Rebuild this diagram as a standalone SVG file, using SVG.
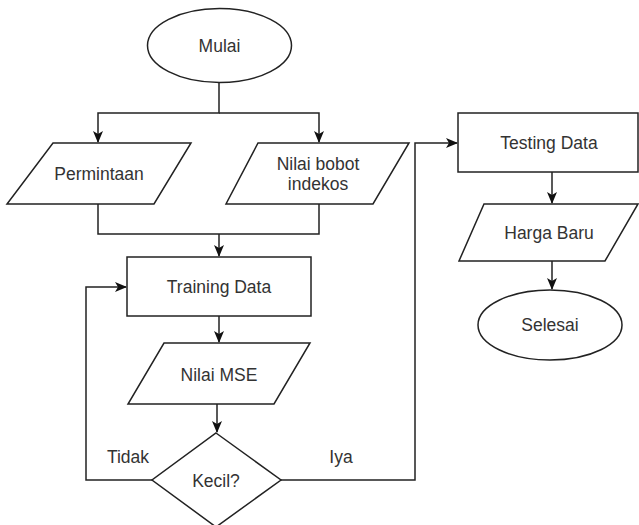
<svg xmlns="http://www.w3.org/2000/svg" width="639" height="525" viewBox="0 0 639 525">
<style>
.s{fill:#fff;stroke:#222;stroke-width:1.5}
.t{font-family:"Liberation Sans",Arial,sans-serif;font-size:17.5px;fill:#333;text-anchor:middle;dominant-baseline:central}
.c{fill:none;stroke:#222;stroke-width:1.5}
</style>
<defs>
<marker id="a" viewBox="0 0 12 10" refX="11" refY="5" markerWidth="12" markerHeight="10" markerUnits="userSpaceOnUse" orient="auto"><path d="M0,0 L12,5 L0,10 L3,5 Z" fill="#111"/></marker>
</defs>
<rect width="639" height="525" fill="#fff"/>
<g id="connectors">
<path class="c" d="M219,83 V113 H98 V142" marker-end="url(#a)"/>
<path class="c" d="M219,113 H319 V142" marker-end="url(#a)"/>
<path class="c" d="M98,204 V234 H319 V204"/>
<path class="c" d="M219,234 V256" marker-end="url(#a)"/>
<path class="c" d="M219,316 V342" marker-end="url(#a)"/>
<path class="c" d="M217,404 V432" marker-end="url(#a)"/>
<path class="c" d="M152,480 H86 V287 H126" marker-end="url(#a)"/>
<path class="c" d="M281,480 H415 V143 H457" marker-end="url(#a)"/>
<path class="c" d="M552,172 V203" marker-end="url(#a)"/>
<path class="c" d="M552,261 V289" marker-end="url(#a)"/>
<text class="t" x="128" y="457">Tidak</text>
<text class="t" x="341" y="457">Iya</text>
</g>
<g id="mulai"><ellipse class="s" cx="219.5" cy="45.5" rx="72" ry="37"/><text class="t" x="219.5" y="45.5">Mulai</text></g>
<g id="permintaan"><polygon class="s" points="53,143 191,143 154,204 7,204"/><text class="t" x="99" y="174">Permintaan</text></g>
<g id="nilai-bobot"><polygon class="s" points="258,143 409,143 373,204 226,204"/><text class="t" x="318" y="164">Nilai bobot</text><text class="t" x="318" y="184">indekos</text></g>
<g id="training"><rect class="s" x="127" y="257" width="184" height="59"/><text class="t" x="219" y="287">Training Data</text></g>
<g id="mse"><polygon class="s" points="164,343 310,343 274,404 128,404"/><text class="t" x="219" y="375">Nilai MSE</text></g>
<g id="kecil"><polygon class="s" points="216,433 281,480 216,527 152,480"/><text class="t" x="216" y="481">Kecil?</text></g>
<g id="testing"><rect class="s" x="458" y="113" width="180" height="59"/><text class="t" x="549" y="143">Testing Data</text></g>
<g id="harga"><polygon class="s" points="484,204 638,204 605,261 459,261"/><text class="t" x="549" y="233">Harga Baru</text></g>
<g id="selesai"><ellipse class="s" cx="550" cy="325" rx="72" ry="35"/><text class="t" x="550" y="325">Selesai</text></g>
</svg>
